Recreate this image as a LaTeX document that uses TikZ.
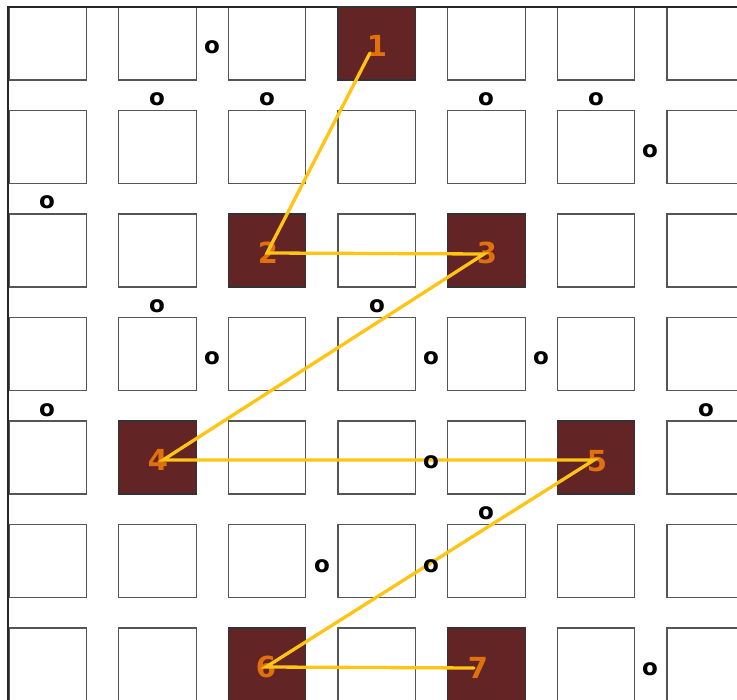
\documentclass[tikz,border=0pt]{standalone}
\usepackage{fontspec}
\newfontfamily\djfont{DejaVu Sans}
\definecolor{cellline}{HTML}{555555}
\definecolor{cellfill}{HTML}{622424}
\definecolor{numcol}{HTML}{E2700C}
\definecolor{pathcol}{HTML}{FFC414}
\begin{document}
\begin{tikzpicture}[x=1pt,y=-1pt,
  cell/.style={draw=cellline, line width=1.1pt, fill=white, minimum width=77.5pt, minimum height=73pt, inner sep=0pt},
  darkcell/.style={cell, draw=black!80, fill=cellfill},
  num/.style={text=numcol, font=\djfont\bfseries\fontsize{29}{29}\selectfont, inner sep=0pt},
  omark/.style={text=black, font=\djfont\bfseries\fontsize{23}{23}\selectfont, inner sep=0pt},
  route/.style={draw=pathcol, line width=3.3pt, line cap=round}]
\useasboundingbox (0,0) rectangle (737,700);
\clip (0,0) rectangle (737,700);
\fill[white] (0,0) rectangle (737,700);
% grid of cells
\foreach \r in {0,...,6}{
  \foreach \c in {0,...,6}{
    \node[cell] (s\r\c) at ({9+109.67*\c+38.75},{7+103.5*\r+36.5}) {};
  }
}
% frame
\draw[line width=2pt, color=black!85] (737,7) -- (8,7) -- (8,700);
% dark cells
\node[darkcell] (d1) at (s03) {};
\node[darkcell] (d2) at (s22) {};
\node[darkcell] (d3) at (s24) {};
\node[darkcell] (d4) at (s41) {};
\node[darkcell] (d5) at (s45) {};
\node[darkcell] (d6) at (s62) {};
\node[darkcell] (d7) at (s64) {};
% route end points
\coordinate (p1) at (370,53);
\coordinate (p2) at (267,253);
\coordinate (p3) at (484,254);
\coordinate (p4) at (163,460);
\coordinate (p5) at (594,460);
\coordinate (p6) at (266,667);
\coordinate (p7) at (474,668);
% numbers
\node[num] (n1) at (377,46) {1};
\node[num] (n2) at (268,253) {2};
\node[num] (n3) at (487,253) {3};
\node[num] (n4) at (158,460) {4};
\node[num] (n5) at (597,461) {5};
\node[num] (n6) at (266,667) {6};
\node[num] (n7) at (478,668) {7};
% route
\draw[route] (p1) -- (p2) -- (p3) -- (p4) -- (p5) -- (p6) -- (p7);
% o markers
\node[omark] (o1) at (212,47) {o};
\node[omark] (o2) at (157,99) {o};
\node[omark] (o3) at (267,99) {o};
\node[omark] (o4) at (486,99) {o};
\node[omark] (o5) at (596,99) {o};
\node[omark] (o6) at (650,151) {o};
\node[omark] (o7) at (47,202) {o};
\node[omark] (o8) at (157,306) {o};
\node[omark] (o9) at (377,306) {o};
\node[omark] (o10) at (212,358) {o};
\node[omark] (o11) at (431,358) {o};
\node[omark] (o12) at (541,358) {o};
\node[omark] (o13) at (47,410) {o};
\node[omark] (o14) at (706,410) {o};
\node[omark] (o15) at (431,462) {o};
\node[omark] (o16) at (486,513) {o};
\node[omark] (o17) at (322,566) {o};
\node[omark] (o18) at (431,566) {o};
\node[omark] (o19) at (650,669) {o};
\end{tikzpicture}
\end{document}
